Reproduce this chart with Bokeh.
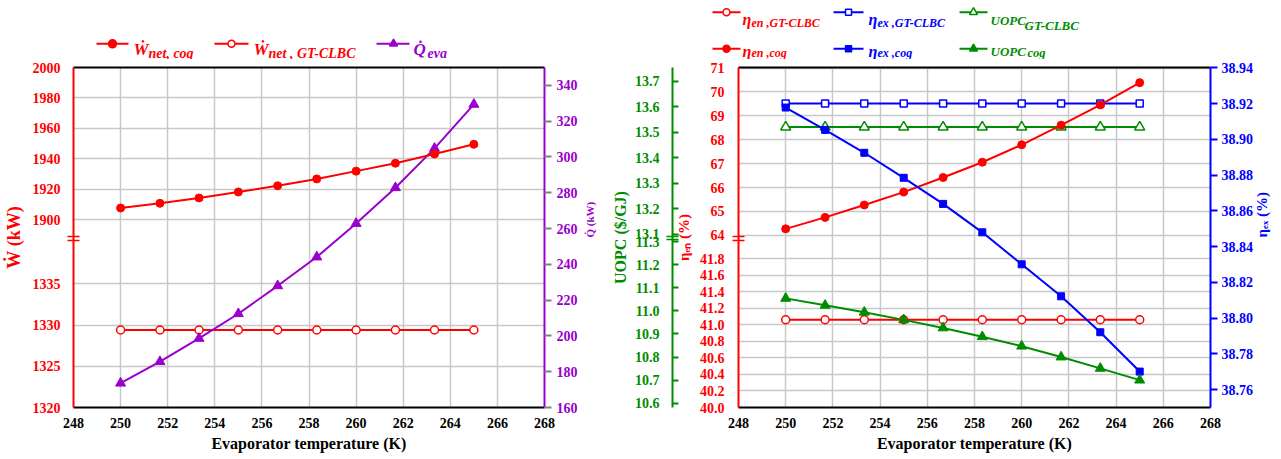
import math
from bokeh.plotting import figure
from bokeh.models import Range1d, LinearAxis, FixedTicker, Label, NumeralTickFormatter
from bokeh.layouts import row, column
from bokeh.embed import file_html
from bokeh.resources import INLINE

# ---------------- data ----------------
evap_T = [250.0, 251.67, 253.33, 255.0, 256.67, 258.33, 260.0, 261.67, 263.33, 265.0]

W_net_cog = [1907.8, 1910.9, 1914.4, 1918.3, 1922.4, 1926.9, 1932.0, 1937.2, 1943.2, 1949.6]
W_net_gtclbc = [1329.4, 1329.4, 1329.4, 1329.4, 1329.4, 1329.4, 1329.4, 1329.4, 1329.4, 1329.4]
Q_eva = [173.6, 185.6, 198.6, 212.4, 228.0, 244.1, 262.8, 282.8, 304.8, 329.4]

eta_en_gtclbc = [41.06, 41.06, 41.06, 41.06, 41.06, 41.06, 41.06, 41.06, 41.06, 41.06]
eta_ex_gtclbc = [38.92, 38.92, 38.92, 38.92, 38.92, 38.92, 38.92, 38.92, 38.92, 38.92]
uopc_gtclbc = [13.52, 13.52, 13.52, 13.52, 13.52, 13.52, 13.52, 13.52, 13.52, 13.52]
eta_en_cog = [64.27, 64.75, 65.27, 65.81, 66.42, 67.06, 67.79, 68.61, 69.46, 70.39]
eta_ex_cog = [38.9178, 38.9053, 38.8925, 38.8785, 38.8639, 38.8480, 38.8301, 38.8122, 38.7921, 38.7701]
uopc_cog = [11.054, 11.024, 10.994, 10.961, 10.926, 10.888, 10.847, 10.800, 10.751, 10.700]

x_ticks = [248, 250, 252, 254, 256, 258, 260, 262, 264, 266, 268]
w_ticks_low = [1320, 1325, 1330, 1335]
w_ticks_high = [1900, 1920, 1940, 1960, 1980, 2000]
q_ticks = [160, 180, 200, 220, 240, 260, 280, 300, 320, 340]
en_ticks_low = [40.0, 40.2, 40.4, 40.6, 40.8, 41.0, 41.2, 41.4, 41.6, 41.8]
en_ticks_high = [64, 65, 66, 67, 68, 69, 70, 71]
u_ticks_low = [10.6, 10.7, 10.8, 10.9, 11.0, 11.1, 11.2, 11.3]
u_ticks_high = [13.1, 13.2, 13.3, 13.4, 13.5, 13.6, 13.7]
ex_ticks = [38.76, 38.78, 38.80, 38.82, 38.84, 38.86, 38.88, 38.90, 38.92, 38.94]

# ---------------- style ----------------
FONT = "Liberation Serif"
RED = "#FF0000"
PURPLE = "#9900CC"
BLUE = "#0000FF"
GREEN = "#008C00"
GRID = "#C8C8C8"

PAGE_W, PAGE_H = 1281, 459
LEG_H = 59
W1, W2 = 608, 673


# broken-axis scales (virtual coordinate = pixels above the frame bottom)
def w_scale(w):
    if w < 1600:
        return (w - 1320.0) * (124.4 / 15.0)
    return 188.7 + (w - 1900.0) * 1.533


def en_scale(e):
    if e < 50:
        return (e - 40.0) * 83.5
    return 173.7 + (e - 64.0) * 24.1


def u_scale(u):
    if u < 12:
        return 4.3 + (u - 10.6) * 233.0
    return 175.0 + (u - 13.1) * 257.0


def style_axis(ax, color, label_color, tick_out=0, tick_in=0, tick_color=None, standoff=7):
    ax.axis_line_color = color
    ax.axis_line_width = 2
    ax.major_tick_out = tick_out
    ax.major_tick_in = tick_in
    ax.major_tick_line_color = tick_color
    ax.major_tick_line_width = 2
    ax.minor_tick_line_color = None
    ax.minor_tick_out = 0
    ax.minor_tick_in = 0
    ax.major_label_text_font = FONT
    ax.major_label_text_font_style = "bold"
    ax.major_label_text_font_size = "14px"
    ax.major_label_text_color = label_color
    ax.major_label_standoff = standoff


def axis_title(ax, text, size, color, standoff, flip=False):
    ax.axis_label = text
    ax.axis_label_text_font = FONT
    ax.axis_label_text_font_style = "bold"
    ax.axis_label_text_font_size = f"{size}px"
    ax.axis_label_text_color = color
    ax.axis_label_standoff = standoff
    if flip:
        try:
            ax.axis_label_orientation = math.pi / 2
        except Exception:
            pass


def break_ticks(ax, color):
    # two short strokes across the spine marking the axis break
    ax.minor_tick_line_color = color
    ax.minor_tick_line_width = 1.6
    ax.minor_tick_in = 6
    ax.minor_tick_out = 6


def add_label(p, x, y, text, size, color, style="bold italic"):
    p.add_layout(Label(x=x, y=y, text=text, text_font=FONT, text_font_size=f"{size}px",
                       text_font_style=style, text_color=color,
                       text_align="left", text_baseline="alphabetic"))


def legend_item(p, x0, x1, xm, y, color, marker, filled, msize, texts):
    p.line([x0, x1], [y, y], line_color=color, line_width=2)
    p.scatter([xm], [y], marker=marker, size=msize, fill_color=color if filled else "white",
              line_color=color, line_width=1.5)
    for tx, tb, txt, size, col in texts:
        add_label(p, tx, tb, txt, size, col)


def base_figure(width, height, fh, bl, br, bt, bb):
    p = figure(width=width, height=height, x_range=Range1d(248, 268), y_range=Range1d(0, fh),
               min_border_left=bl, min_border_right=br, min_border_top=bt, min_border_bottom=bb,
               output_backend="svg", toolbar_location=None)
    p.outline_line_color = None
    p.background_fill_color = "white"
    p.border_fill_color = "white"
    xa = p.xaxis[0]
    xa.ticker = FixedTicker(ticks=x_ticks)
    style_axis(xa, "black", "black", standoff=10)
    axis_title(xa, "Evaporator temperature (K)", 16, "black", 4)
    p.xgrid[0].ticker = FixedTicker(ticks=x_ticks)
    for g in (p.xgrid[0], p.ygrid[0]):
        g.grid_line_color = GRID
        g.grid_line_width = 1.5
    top = LinearAxis(ticker=FixedTicker(ticks=[]))
    style_axis(top, "black", "black", standoff=0)
    top.major_label_text_font_size = "0px"
    p.add_layout(top, "above")
    return p


# ======================= LEGEND STRIP (page pixels) =======================
leg = figure(width=PAGE_W, height=LEG_H, x_range=Range1d(0, PAGE_W), y_range=Range1d(LEG_H, 0),
             min_border=0, x_axis_location=None, y_axis_location=None,
             output_backend="svg", toolbar_location=None)
leg.outline_line_color = None
leg.grid.grid_line_color = None
leg.background_fill_color = "white"
leg.border_fill_color = "white"

legend_item(leg, 96, 128, 112, 43.3, RED, "circle", True, 8,
            [(133, 48.5, "\u1E86", 17, RED), (148, 52.5, "net, cog", 14, RED)])
legend_item(leg, 214, 248, 231, 43.3, RED, "circle", False, 7,
            [(253, 48.5, "\u1E86", 17, RED), (268, 52.5, "net , GT-CLBC", 14, RED)])
legend_item(leg, 376, 409, 393, 43.3, PURPLE, "triangle", True, 8,
            [(413, 48.5, "Q\u0307", 17, PURPLE), (427, 52.5, "eva", 14, PURPLE)])

for yl, yb, ys, yu, yt, filled, tag in ((11.7, 19, 22, 20, 24.5, False, "GT-CLBC"),
                                        (48.3, 51, 52.5, 51, 52, True, "cog")):
    legend_item(leg, 712, 740, 726, yl, RED, "circle", filled, 7,
                [(742, yb, "\u03B7", 16, RED), (751, ys, "en ," + tag, 12, RED)])
    legend_item(leg, 833, 863, 848, yl, BLUE, "square", filled, 6,
                [(868, yb, "\u03B7", 16, BLUE), (877, ys, "ex ," + tag, 12, BLUE)])
    legend_item(leg, 959, 987, 973, yl, GREEN, "triangle", filled, 8,
                [(990, yu, "UOPC", 13, GREEN),
                 (1024 if not filled else 1027, yt, tag, 13 if not filled else 12.5, GREEN)])

# ======================= LEFT PANEL =======================
H = PAGE_H - LEG_H
T1 = 65 - LEG_H
T2 = 67 - LEG_H
p1 = base_figure(W1, H, 342, 70, W1 - 70 - 474, T1, H - T1 - 342)
p1.extra_y_ranges = {"q": Range1d(160, 350)}

w_vals = w_ticks_low + w_ticks_high
w_pos = [round(w_scale(v), 3) for v in w_vals]
ya = p1.yaxis[0]
ya.ticker = FixedTicker(ticks=w_pos, minor_ticks=[168.0, 171.6])
ya.major_label_overrides = {pos: str(v) for pos, v in zip(w_pos, w_vals)}
style_axis(ya, RED, RED, standoff=7)
break_ticks(ya, RED)
axis_title(ya, "\u1E86 (kW)", 18, RED, 6)
p1.ygrid[0].ticker = FixedTicker(ticks=w_pos)

qa = LinearAxis(y_range_name="q", ticker=FixedTicker(ticks=q_ticks))
style_axis(qa, PURPLE, PURPLE, tick_out=7, tick_color="#808080", standoff=5)
axis_title(qa, "Q\u0307 (kW)", 11, PURPLE, 9, flip=True)
p1.add_layout(qa, "right")

y_cog = [w_scale(v) for v in W_net_cog]
y_gt = [w_scale(v) for v in W_net_gtclbc]
p1.line(evap_T, y_gt, line_color=RED, line_width=2)
p1.scatter(evap_T, y_gt, marker="circle", size=8, fill_color="white", line_color=RED, line_width=1.5)
p1.line(evap_T, Q_eva, line_color=PURPLE, line_width=2, y_range_name="q")
p1.scatter(evap_T, Q_eva, marker="triangle", size=10, fill_color=PURPLE, line_color=PURPLE,
           y_range_name="q")
p1.line(evap_T, y_cog, line_color=RED, line_width=2)
p1.scatter(evap_T, y_cog, marker="circle", size=8, fill_color=RED, line_color=RED)

# ======================= RIGHT PANEL =======================
p2 = base_figure(W2, H, 343, 128, W2 - 128 - 474, T2, H - T2 - 343)
p2.extra_y_ranges = {"ex": Range1d(38.75, 38.9402)}

en_vals = en_ticks_low + en_ticks_high
en_pos = [round(en_scale(v), 3) for v in en_vals]
ra = p2.yaxis[0]
ra.ticker = FixedTicker(ticks=en_pos, minor_ticks=[168.7, 172.3])
ra.major_label_overrides = {pos: (f"{v:.1f}" if v < 50 else str(int(v))) for pos, v in zip(en_pos, en_vals)}
style_axis(ra, RED, RED, standoff=8)
break_ticks(ra, RED)
axis_title(ra, "\u03B7\u2091\u2099 (%)", 15, RED, 5)
p2.ygrid[0].ticker = FixedTicker(ticks=en_pos)

u_vals = u_ticks_low + u_ticks_high
u_pos = [round(u_scale(v), 3) for v in u_vals]
ga = LinearAxis(ticker=FixedTicker(ticks=u_pos, minor_ticks=[169.2, 172.8]))
ga.major_label_overrides = {pos: f"{v:.1f}" for pos, v in zip(u_pos, u_vals)}
style_axis(ga, GREEN, GREEN, tick_out=0, tick_in=6, tick_color=GREEN, standoff=7)
break_ticks(ga, GREEN)
axis_title(ga, "UOPC ($/GJ)", 16, GREEN, 3)
p2.add_layout(ga, "left")

ba = LinearAxis(y_range_name="ex", ticker=FixedTicker(ticks=ex_ticks),
                formatter=NumeralTickFormatter(format="0.00"))
style_axis(ba, BLUE, BLUE, tick_out=7, tick_color=BLUE, standoff=4)
axis_title(ba, "\u03B7\u2091\u2093 (%)", 15, BLUE, 6, flip=True)
p2.add_layout(ba, "right")

en_gt_v = [en_scale(v) for v in eta_en_gtclbc]
en_cog_v = [en_scale(v) for v in eta_en_cog]
u_gt_v = [u_scale(v) for v in uopc_gtclbc]
u_cog_v = [u_scale(v) for v in uopc_cog]

p2.line(evap_T, en_gt_v, line_color=RED, line_width=2)
p2.scatter(evap_T, en_gt_v, marker="circle", size=8, fill_color="white", line_color=RED, line_width=1.5)
p2.line(evap_T, eta_ex_gtclbc, line_color=BLUE, line_width=2, y_range_name="ex")
p2.scatter(evap_T, eta_ex_gtclbc, marker="square", size=7, fill_color="white", line_color=BLUE,
           line_width=1.5, y_range_name="ex")
p2.line(evap_T, u_gt_v, line_color=GREEN, line_width=2)
p2.scatter(evap_T, u_gt_v, marker="triangle", size=10, fill_color="white", line_color=GREEN,
           line_width=1.5)
p2.line(evap_T, en_cog_v, line_color=RED, line_width=2)
p2.scatter(evap_T, en_cog_v, marker="circle", size=8, fill_color=RED, line_color=RED)
p2.line(evap_T, eta_ex_cog, line_color=BLUE, line_width=2, y_range_name="ex")
p2.scatter(evap_T, eta_ex_cog, marker="square", size=7, fill_color=BLUE, line_color=BLUE,
           y_range_name="ex")
p2.line(evap_T, u_cog_v, line_color=GREEN, line_width=2)
p2.scatter(evap_T, u_cog_v, marker="triangle", size=10, fill_color=GREEN, line_color=GREEN)

layout = column(leg, row(p1, p2))
open("out.html", "w").write(file_html(layout, INLINE, title="chart"))
